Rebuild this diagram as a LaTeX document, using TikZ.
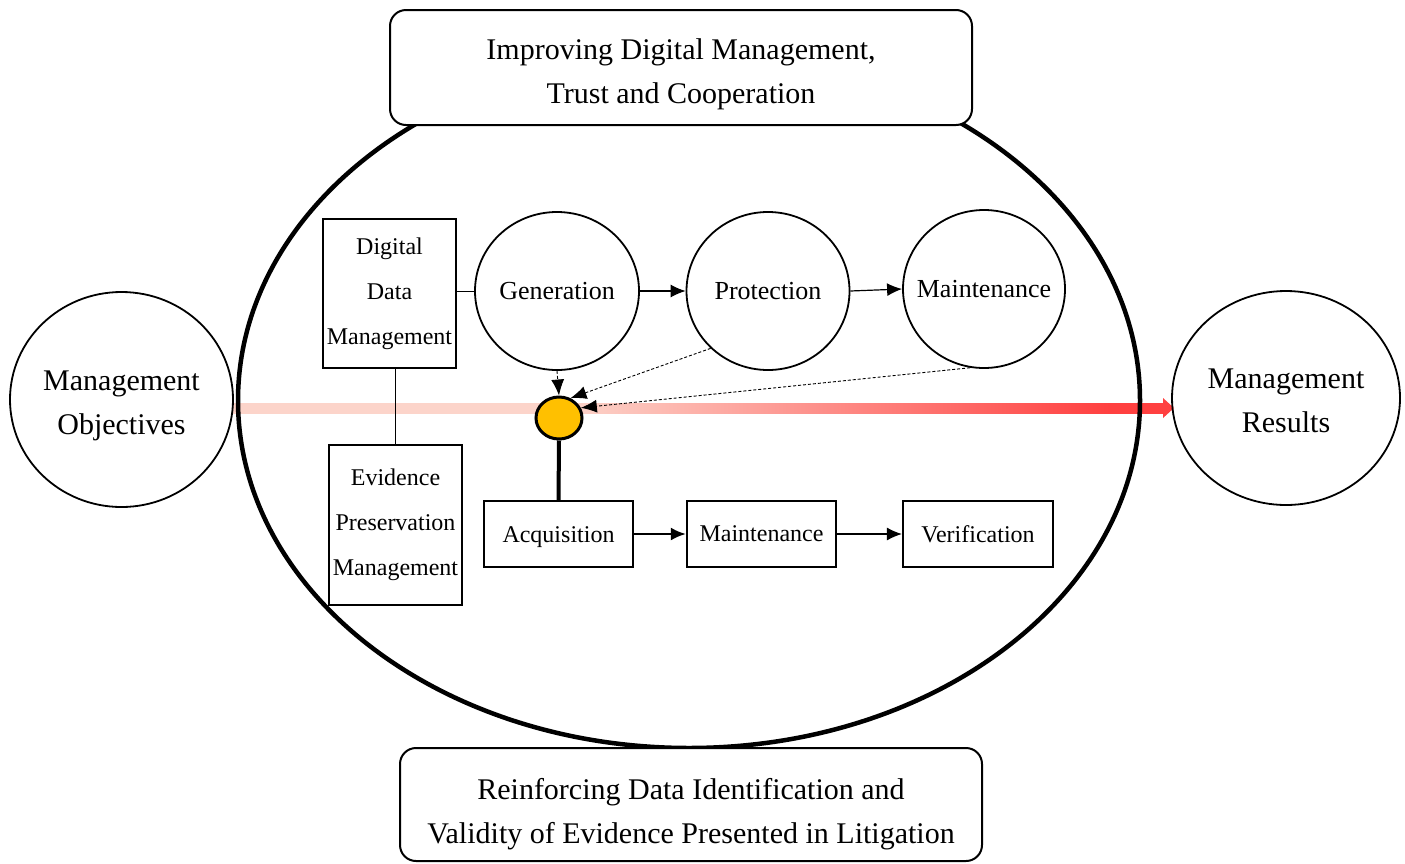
\documentclass[tikz,border=0pt]{standalone}
\usepackage{fontspec}
\setmainfont{Liberation Serif}
\usetikzlibrary{shapes.geometric,arrows.meta,calc}
\definecolor{dotfill}{RGB}{255,192,0}
\definecolor{bandpale}{RGB}{252,212,202}
\definecolor{bandred}{RGB}{255,64,64}
\pgfdeclarehorizontalshading{bandshade}{100bp}{color(0bp)=(bandpale); color(25bp)=(bandpale); color(43bp)=(bandpale); color(72bp)=(bandred); color(100bp)=(bandred)}
\begin{document}
\begin{tikzpicture}[x=1pt,y=-1pt,
 bigtext/.style={font=\fontsize{30}{44}\selectfont, align=center},
 circ/.style={draw, line width=1.8pt, ellipse, inner sep=0pt, font=\fontsize{26}{40}\selectfont, align=center},
 bigcirc/.style={circ, bigtext},
 box/.style={draw, line width=2.2pt, rectangle, inner sep=0pt, font=\fontsize{24}{45}\selectfont, align=center},
 rbox/.style={draw, line width=2pt, rounded corners=16pt, fill=white, inner sep=0pt, bigtext},
 tipline/.style={line width=1.2pt, -{Latex[length=15pt,width=13pt]}},
 dtip/.style={dash pattern=on 3pt off 2pt, line width=0.9pt, -{Latex[length=16pt,width=13pt]}}
]
\useasboundingbox (0,0) rectangle (1405,863);

% band
\coordinate (bl) at (233,408);
\coordinate (br) at (1174,408);
\shade[shading=bandshade] (233,403) rectangle (1165,413);
\fill[bandred] (1163,398) -- (br) -- (1163,418) -- cycle;

% big ellipse
\draw[line width=4.5pt] (689,400.5) ellipse [x radius=451pt, y radius=347.5pt];

% top and bottom boxes
\node[rbox, minimum width=582pt, minimum height=115pt] (topbox) at (681,67.5) {\rule{0pt}{35pt}Improving Digital Management,\\Trust and Cooperation};
\node[rbox, minimum width=582pt, minimum height=113pt] (botbox) at (691,804.5) {\rule{0pt}{40pt}Reinforcing Data Identification and\\Validity of Evidence Presented in Litigation};

% side circles
\node[bigcirc, minimum width=223pt, minimum height=215pt] (obj) at (121.5,399.5) {\rule{0pt}{33pt}Management\\Objectives};
\node[bigcirc, minimum width=228pt, minimum height=214pt] (res) at (1286,398) {\rule{0pt}{25pt}Management\\Results};

% management boxes
\node[box, minimum width=133pt, minimum height=149pt] (ddm) at (389.5,293.5) {Digital\\Data\\Management};
\node[box, minimum width=133pt, minimum height=160pt] (epm) at (395.5,525) {Evidence\\Preservation\\Management};

% upper circles
\node[circ, minimum width=164pt, minimum height=158pt] (gen) at (557,291) {\makebox[0pt]{Generation}};
\node[circ, minimum width=163pt, minimum height=158pt] (prot) at (768,291) {\makebox[0pt]{Protection}};
\node[circ, minimum width=162pt, minimum height=158pt] (mc) at (984,289) {\makebox[0pt]{Maintenance}};

% lower boxes
\node[box, minimum width=149pt, minimum height=66pt] (acq) at (558.5,534) {\rule{0pt}{22pt}Acquisition};
\node[box, minimum width=149pt, minimum height=66pt] (mb) at (761.5,534) {Maintenance};
\node[box, minimum width=150pt, minimum height=66pt] (ver) at (978,534) {Verification};

% dot
\node[draw, line width=3pt, fill=dotfill, ellipse, minimum width=46pt, minimum height=42pt, inner sep=0pt] (dot) at (559,418) {};

% connectors
\draw[line width=1pt] (ddm.south -| epm.north) -- (epm.north);
\draw[line width=1pt] (ddm.east |- gen.west) -- (gen.west);
\draw[tipline] (gen.east) -- (prot.west);
\draw[tipline] (prot.east) -- (mc.west);
\draw[dtip] (gen.south) -- (dot.north);
\draw[dtip] (prot.225) -- (dot.60);
\draw[dtip] (mc.260) -- (dot.25);
\draw[line width=4pt] (dot.south) -- (acq.north);
\draw[line width=2.5pt, -{Latex[length=15pt,width=13pt]}] (acq.east) -- (mb.west);
\draw[tipline] (mb.east) -- (ver.west);
\end{tikzpicture}
\end{document}
